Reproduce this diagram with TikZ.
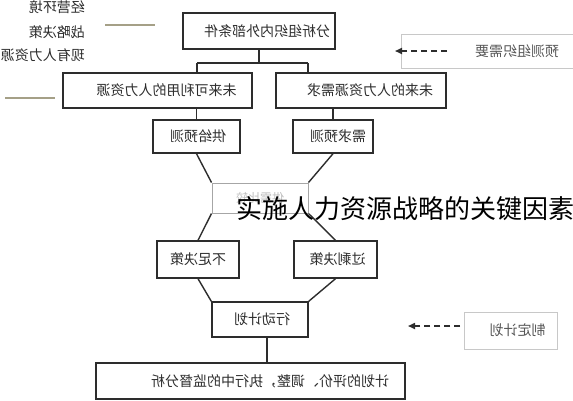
\documentclass[tikz,border=0pt]{standalone}
\usepackage{fontspec}
\newfontfamily\cjk{Noto Sans CJK SC}
\usetikzlibrary{arrows.meta}
\newcommand\mir[1]{\reflectbox{#1}}
\definecolor{ink}{RGB}{45,45,45}
\definecolor{faint}{RGB}{200,200,200}
\definecolor{olive}{RGB}{165,160,135}
\tikzset{
  box/.style={draw=ink, line width=1.4pt, minimum width=#1, inner sep=0pt, font=\cjk\fontsize{14pt}{16pt}\selectfont, text=ink},
  lightbox/.style={draw=faint, line width=0.8pt, minimum width=#1, inner sep=0pt, font=\cjk\fontsize{14pt}{16pt}\selectfont, text=ink!80},
  conn/.style={draw=ink, line width=1.4pt},
  dasharrow/.style={draw=ink, line width=1.6pt, dash pattern=on 6pt off 4pt, -{Triangle[length=7pt,width=6pt]}},
  lbl/.style={font=\cjk\fontsize{14pt}{16pt}\selectfont, text=ink, inner sep=0pt, anchor=east},
  tick/.style={draw=olive, line width=1.4pt}
}
\begin{document}
\begin{tikzpicture}[x=1pt,y=-1pt]
\useasboundingbox (0,0) rectangle (573,400);
\fill[white] (0,0) rectangle (573,400);

% left labels
\node[lbl] (l1) at (85,7) {\mir{经营环境}};
\node[lbl] (l2) at (85,32) {\mir{战略决策}};
\node[lbl] (l3) at (85,55) {\mir{现有人力资源}};
\coordinate (t1a) at (105,25); \coordinate (t1b) at (155,25);
\coordinate (t2a) at (5,98); \coordinate (t2b) at (55,98);
\draw[tick] (t1a) -- (t1b);
\draw[tick] (t2a) -- (t2b);

% main boxes
\node[box=152pt, minimum height=36pt] (top) at (259,31) {\hspace{16pt}\mir{分析组织内外部条件}};
\node[box=189pt, minimum height=35pt] (avail) at (157.5,90.5) {\hspace{18pt}\mir{未来可利用的人力资源}};
\node[box=170pt, minimum height=35pt] (need) at (361,90.5) {\hspace{18pt}\mir{未来的人力资源需求}};
\node[box=87pt, minimum height=33pt] (supply) at (196.5,136.5) {\hspace{3pt}\mir{供给预测}};
\node[box=80pt, minimum height=33pt] (demand) at (333,136.5) {\hspace{10pt}\mir{需求预测}};
\node[draw=black!35, line width=1pt, minimum width=96pt, minimum height=30pt, inner sep=0pt, font=\cjk\fontsize{12pt}{14pt}\selectfont, text=black!25] (compare) at (260,198) {\mir{供需比较}};
\node[box=82pt, minimum height=37pt] (short) at (198,259.5) {\mir{不足决策}};
\node[box=83pt, minimum height=37pt] (surplus) at (335.5,259.5) {\hspace{4pt}\mir{过剩决策}};
\node[box=96pt, minimum height=35pt] (action) at (260,319.5) {\hspace{4pt}\mir{行动计划}};
\node[box=309pt, minimum height=36pt] (bottom) at (250.5,381) {\hspace{39pt}\mir{计划的评价、调整，执行中的监督分析}};

% connectors
\coordinate (jl) at (197,63);
\coordinate (jr) at (308,63);
\draw[conn] (top.south) -- (top.south |- jl);
\draw[conn] (jl) -- (jr);
\draw[conn] (jl) -- (jl |- avail.north);
\draw[conn] (jr) -- (jr |- need.north);
\draw[conn] (supply.north) -- (supply.north |- avail.south);
\draw[conn] (demand.north) -- (demand.north |- need.south);
\draw[conn] (supply.south) -- (compare.north west);
\draw[conn] (demand.south) -- (compare.north east);
\draw[conn] (compare.south west) -- (short.north);
\draw[conn] (compare.south east) -- (surplus.north);
\draw[conn] (short.south) -- (action.north west);
\draw[conn] (surplus.south) -- (action.north east);
\draw[conn] ([xshift=7pt]action.south) -- ([xshift=7pt]action.south |- bottom.north);

% right side boxes
\node[lightbox=180pt, minimum height=34pt] (predict) at (491,51) {\hspace{52pt}\mir{预测组织需要}};
\node[lightbox=93pt, minimum height=37pt] (plan) at (510.5,330.5) {\hspace{14pt}\mir{制定计划}};
\coordinate (a1s) at (447,51); \coordinate (a1e) at (395,51);
\coordinate (a2s) at (460,326); \coordinate (a2e) at (408,326);
\draw[dasharrow] (a1s) -- (a1e);
\draw[dasharrow] (a2s) -- (a2e);

% watermark
\node[font=\cjk\fontsize{26pt}{28pt}\selectfont, text=black, anchor=west, inner sep=0pt] (wm) at (236,209) {实施人力资源战略的关键因素};
\end{tikzpicture}
\end{document}
